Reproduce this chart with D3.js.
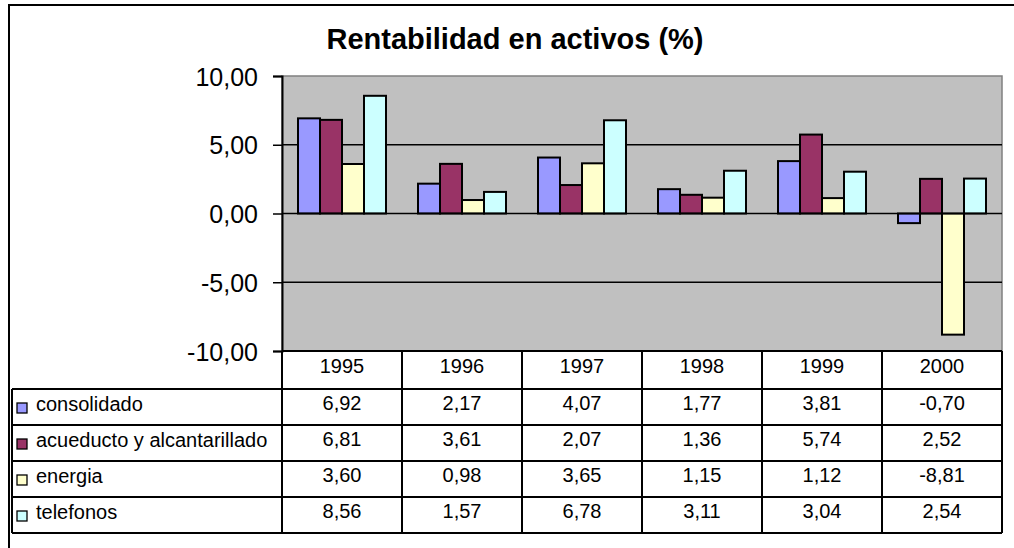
<!DOCTYPE html>
<html>
<head>
<meta charset="utf-8">
<script src="https://cdn.jsdelivr.net/npm/d3@7"></script>
<style>
  body { margin: 0; background: #fff; }
  text { font-family: "Liberation Sans", Arial, sans-serif; fill: #000; }
</style>
</head>
<body>
<div id="chart"></div>
<script>
// data
const years = ["1995", "1996", "1997", "1998", "1999", "2000"];
const seriesNames = ["consolidado", "acueducto y alcantarillado", "energia", "telefonos"];
const consolidado = [6.92, 2.17, 4.07, 1.77, 3.81, -0.70];
const acueducto = [6.81, 3.61, 2.07, 1.36, 5.74, 2.52];
const energia = [3.60, 0.98, 3.65, 1.15, 1.12, -8.81];
const telefonos = [8.56, 1.57, 6.78, 3.11, 3.04, 2.54];
const yTicks = [-10, -5, 0, 5, 10];
const colors = ["#9999FF", "#993366", "#FFFFCC", "#CCFFFF"];

const seriesValues = [consolidado, acueducto, energia, telefonos];

const width = 1014, height = 548;
const plot = { left: 282, right: 1002, top: 76, bottom: 351 };
const rowH = 36, headerH = 38, tableLeft = 12;

const fmt = v => d3.format(".2f")(v).replace("−", "-").replace(".", ",");

const svg = d3.select("#chart").append("svg")
  .attr("width", width)
  .attr("height", height);

// outer chart border (runs off the right and bottom edges)
svg.append("rect")
  .attr("x", 9).attr("y", 5)
  .attr("width", 1010).attr("height", 560)
  .attr("fill", "none").attr("stroke", "#000").attr("stroke-width", 2);

// title
svg.append("text")
  .attr("x", 515).attr("y", 49)
  .attr("text-anchor", "middle")
  .style("font-size", "29px").style("font-weight", "bold")
  .text("Rentabilidad en activos (%)");

// scales
const x = d3.scaleBand().domain(years).range([plot.left, plot.right]);
const xSub = d3.scaleBand().domain(d3.range(seriesNames.length)).range([16, 104]);
const y = d3.scaleLinear().domain([-10, 10]).range([plot.bottom, plot.top]);

// plot area
svg.append("rect")
  .attr("x", plot.left).attr("y", plot.top)
  .attr("width", plot.right - plot.left).attr("height", plot.bottom - plot.top)
  .attr("fill", "#C0C0C0").attr("stroke", "#808080").attr("stroke-width", 1.5);

// gridlines
svg.append("g")
  .selectAll("line")
  .data(yTicks.filter(t => t !== 10 && t !== -10 && t !== 0))
  .join("line")
  .attr("x1", plot.left).attr("x2", plot.right)
  .attr("y1", d => y(d)).attr("y2", d => y(d))
  .attr("stroke", "#000").attr("stroke-width", 1.5);

// bars
const rows = [];
years.forEach((yr, i) => {
  seriesValues.forEach((vals, s) => rows.push({ year: yr, s: s, v: vals[i] }));
});

svg.append("g")
  .selectAll("rect")
  .data(rows)
  .join("rect")
  .attr("x", d => x(d.year) + xSub(d.s))
  .attr("width", xSub.bandwidth())
  .attr("y", d => y(Math.max(0, d.v)))
  .attr("height", d => Math.abs(y(d.v) - y(0)))
  .attr("fill", d => colors[d.s])
  .attr("stroke", "#000").attr("stroke-width", 2);

// category axis at zero
svg.append("line")
  .attr("x1", plot.left).attr("x2", plot.right)
  .attr("y1", y(0)).attr("y2", y(0))
  .attr("stroke", "#000").attr("stroke-width", 1.5);

// value axis
const yAxis = svg.append("g")
  .attr("transform", `translate(${plot.left},0)`)
  .call(d3.axisLeft(y).tickValues(yTicks).tickFormat(fmt).tickSizeOuter(0).tickSize(9).tickPadding(15));
yAxis.select(".domain").attr("stroke-width", 2);
yAxis.selectAll(".tick line").attr("stroke-width", 1.5);
yAxis.selectAll("text")
  .attr("dy", "0.36em")
  .style("font-size", "25px")
  .style("font-family", "'Liberation Sans', Arial, sans-serif");

// data table
const table = svg.append("g");
const tableBottom = plot.bottom + headerH + rowH * seriesNames.length;

// horizontal lines
table.append("line")
  .attr("x1", plot.left).attr("x2", plot.right)
  .attr("y1", plot.bottom).attr("y2", plot.bottom)
  .attr("stroke", "#000").attr("stroke-width", 2);
table.selectAll(".hline")
  .data(d3.range(seriesNames.length + 1))
  .join("line")
  .attr("class", "hline")
  .attr("x1", tableLeft).attr("x2", plot.right)
  .attr("y1", i => plot.bottom + headerH + i * rowH)
  .attr("y2", i => plot.bottom + headerH + i * rowH)
  .attr("stroke", "#000").attr("stroke-width", 2);

// vertical lines
table.selectAll(".vline")
  .data(years.concat(["end"]))
  .join("line")
  .attr("class", "vline")
  .attr("x1", d => d === "end" ? plot.right : x(d))
  .attr("x2", d => d === "end" ? plot.right : x(d))
  .attr("y1", plot.bottom).attr("y2", tableBottom)
  .attr("stroke", "#000").attr("stroke-width", 2);
table.append("line")
  .attr("x1", tableLeft).attr("x2", tableLeft)
  .attr("y1", plot.bottom + headerH).attr("y2", tableBottom)
  .attr("stroke", "#000").attr("stroke-width", 2);

// header years
table.selectAll(".yr")
  .data(years)
  .join("text")
  .attr("class", "yr")
  .attr("x", d => x(d) + x.bandwidth() / 2)
  .attr("y", plot.bottom + 22)
  .attr("text-anchor", "middle")
  .style("font-size", "20px")
  .text(d => d);

// rows
seriesNames.forEach((name, s) => {
  const top = plot.bottom + headerH + s * rowH;
  table.append("rect")
    .attr("x", 17).attr("y", top + 14)
    .attr("width", 10).attr("height", 10)
    .attr("fill", colors[s]).attr("stroke", "#000").attr("stroke-width", 1.3);
  table.append("text")
    .attr("x", 36).attr("y", top + 22)
    .style("font-size", "20px")
    .text(name);
  table.selectAll(".v" + s)
    .data(seriesValues[s])
    .join("text")
    .attr("x", (d, i) => x(years[i]) + x.bandwidth() / 2)
    .attr("y", top + 21)
    .attr("text-anchor", "middle")
    .style("font-size", "20px")
    .text(d => fmt(d));
});
</script>
</body>
</html>
